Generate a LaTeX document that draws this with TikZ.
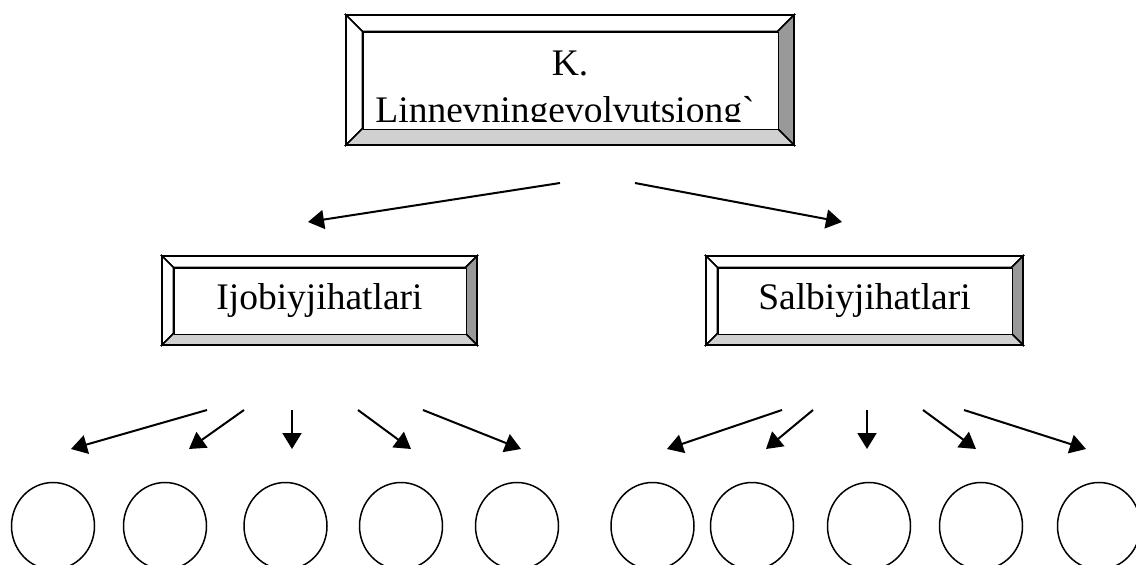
\documentclass[tikz,border=0pt]{standalone}
\usepackage{fontspec}
\setmainfont{Liberation Serif}[Ligatures=TeXOff]
\usetikzlibrary{arrows.meta,shapes.geometric}
\definecolor{bevdark}{HTML}{999999}
\definecolor{bevlight}{HTML}{D0D0D0}
\tikzset{
  frame/.style={draw=black, line width=1.6pt, line join=miter},
  bevlit/.style={frame, fill=white},
  bevshade/.style={frame, fill=bevdark},
  bevfloor/.style={frame, fill=bevlight},
  label/.style={font=\fontsize{37.5}{48}\selectfont, inner sep=0pt},
  conn/.style={line width=2pt, -{Triangle[length=16pt,width=19pt]}},
  leaf/.style={draw, line width=1.5pt, ellipse, minimum width=83pt, minimum height=87pt, inner sep=0pt}
}
% #1 name, #2 x1, #3 y1, #4 x2, #5 y2, #6 bevel width
\newcommand\bevelbox[6]{%
  \path[bevlit] (#2,#3) -- (#4,#3) -- ({#4-#6},{#3+#6}) -- ({#2+#6},{#3+#6}) -- cycle;
  \path[bevlit] (#2,#3) -- ({#2+#6},{#3+#6}) -- ({#2+#6},{#5-#6}) -- (#2,#5) -- cycle;
  \path[bevshade] (#4,#3) -- (#4,#5) -- ({#4-#6},{#5-#6}) -- ({#4-#6},{#3+#6}) -- cycle;
  \path[bevfloor] (#2,#5) -- (#4,#5) -- ({#4-#6},{#5-#6}) -- ({#2+#6},{#5-#6}) -- cycle;
  \node[frame, fill=white, inner sep=0pt, anchor=north west,
        minimum width={(#4-#2-2*#6)*1pt}, minimum height={(#5-#3-2*#6)*1pt}]
        (#1) at ({#2+#6},{#3+#6}) {};
}
\begin{document}
\begin{tikzpicture}[x=1pt,y=-1pt]
\clip (0,0) rectangle (1136,565);
\fill[white] (0,0) rectangle (1136,565);

% top box
\bevelbox{top}{346}{15}{794}{145}{16.5}
\begin{scope}
  \clip (363,31) rectangle (777,121.7);
  \node[label, anchor=base] (k) at (570,75) {K.};
  \node[label, anchor=base] (linn) at (565,122.6) {Linnevningevolvutsiong\symbol{96}};
\end{scope}

% middle boxes
\bevelbox{ijob}{162}{256}{477}{345}{11.5}
\node[label, anchor=base] (ijobt) at (319.5,309) {Ijobiyjihatlari};
\bevelbox{salb}{706}{256}{1023}{345}{11.5}
\node[label, anchor=base] (salbt) at (864.5,309) {Salbiyjihatlari};

% top arrows
\coordinate (ta1) at (560,183); \coordinate (tb1) at (308,222);
\coordinate (ta2) at (635,183); \coordinate (tb2) at (842,222);
\draw[conn] (ta1) -- (tb1);
\draw[conn] (ta2) -- (tb2);

% leaves
\foreach \n/\x in {1/53,2/165,3/285.5,4/401,5/517,6/652.5,7/752,8/869,9/981,10/1099}
  \node[leaf] (c\n) at (\x,526) {};

% lower arrows
\foreach \n/\xa/\xb in {1/207/71,2/244/189,3/292/292,4/358/411,5/423/521,
                         6/782/667,7/813/766,8/867/867,9/923/976,10/964/1086}{
  \coordinate (la\n) at (\xa,410);
  \coordinate (lb\n) at (\xb,449);
  \draw[conn] (la\n) -- (lb\n);
}
\end{tikzpicture}
\end{document}
